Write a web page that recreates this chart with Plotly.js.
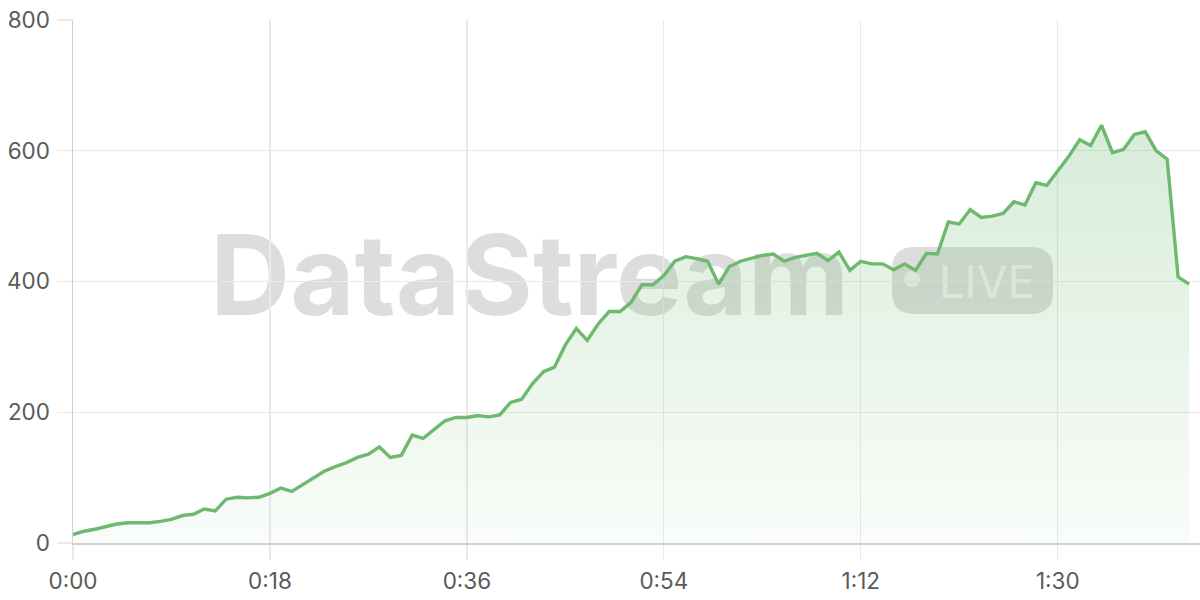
<!DOCTYPE html>
<html>
<head>
<meta charset="utf-8">
<script src="https://cdn.plot.ly/plotly-3.0.1.min.js"></script>
<style>
  html, body { margin: 0; padding: 0; background: #ffffff; }
  #chart { width: 1200px; height: 600px; }
</style>
</head>
<body>
<div id="chart"></div>
<script>
// ---- data ----
const seconds = [
  0,1,2,3,4,5,6,7,8,9,10,11,12,13,14,15,16,17,18,19,20,
  21,22,23,24,25,26,27,28,29,30,31,32,33,34,35,36,37,38,39,40,
  41,42,43,44,45,46,47,48,49,50,51,52,53,54,55,56,57,58,59,60,
  61,62,63,64,65,66,67,68,69,70,71,72,73,74,75,76,77,78,79,80,
  81,82,83,84,85,86,87,88,89,90,91,92,93,94,95,96,97,98,99,100,101,102
];
const values = [
  13,18,21,25,29,31,31,31,33,36,42,44,52,49,67,70,69,70,76,84,79,
  89,99,110,117,123,131,136,147,131,134,165,160,174,187,192,192,195,193,196,215,
  220,244,262,269,303,328,310,335,354,354,368,395,395,409,431,438,435,431,396,423,
  431,435,440,442,431,437,440,443,432,445,417,431,427,427,418,427,417,443,442,491,
  488,510,498,500,504,522,517,551,547,568,591,617,608,639,597,602,625,629,600,587,407,396
];
const xTickVals = [0, 18, 36, 54, 72, 90];
const xTickText = ['0:00', '0:18', '0:36', '0:54', '1:12', '1:30'];
const yTickVals = [0, 200, 400, 600, 800];
const watermarkText = 'DataStream';
const badgeText = 'LIVE';

// ---- layout geometry helpers (pixel -> paper) ----
const M = { l: 73, r: 0, t: 20, b: 57 };
const W = 1200, H = 600;
const PW = W - M.l - M.r, PH = H - M.t - M.b;
const fx = X => (X - M.l) / PW;
const fy = Y => (H - M.b - Y) / PH;

function roundRectPath(x0, y0, x1, y1, r) {
  const p = [
    ['M', x0 + r, y0], ['L', x1 - r, y0], ['Q', x1, y0, x1, y0 + r],
    ['L', x1, y1 - r], ['Q', x1, y1, x1 - r, y1], ['L', x0 + r, y1],
    ['Q', x0, y1, x0, y1 - r], ['L', x0, y0 + r], ['Q', x0, y0, x0 + r, y0]
  ];
  return p.map(seg => {
    const cmd = seg[0];
    const nums = [];
    for (let i = 1; i < seg.length; i += 2) nums.push(fx(seg[i]).toFixed(5) + ',' + fy(seg[i + 1]).toFixed(5));
    return cmd + nums.join(' ');
  }).join(' ') + ' Z';
}

const green = '#6cb96f';
const gridCol = '#e9e9e9';
const tickFont = { family: 'Inter, "Open Sans", sans-serif', size: 22.5, color: '#5a5a5a' };
const wmFamily = 'Inter, "Open Sans", sans-serif';

const trace = {
  x: seconds,
  y: values,
  type: 'scatter',
  mode: 'lines',
  line: { color: green, width: 3.4 },
  fill: 'tozeroy',
  fillgradient: {
    type: 'vertical',
    colorscale: [[0, 'rgba(108,185,111,0.04)'], [1, 'rgba(108,185,111,0.27)']]
  },
  hoverinfo: 'skip'
};

const layout = {
  width: W, height: H,
  margin: M,
  paper_bgcolor: '#ffffff',
  plot_bgcolor: '#ffffff',
  showlegend: false,
  xaxis: {
    range: [0, 103],
    tickvals: xTickVals,
    ticktext: xTickText,
    showgrid: true, gridcolor: gridCol, gridwidth: 1.3,
    ticks: 'outside', ticklen: 15, tickcolor: gridCol, tickwidth: 1.3,
    showline: true, linecolor: '#d0d0d0', linewidth: 2,
    zeroline: false,
    tickfont: tickFont,
    ticklabelstandoff: 2,
    fixedrange: true
  },
  yaxis: {
    range: [0, 800],
    tickvals: yTickVals,
    showgrid: true, gridcolor: gridCol, gridwidth: 1.3,
    ticks: 'outside', ticklen: 15, tickcolor: gridCol, tickwidth: 1.3,
    showline: true, linecolor: '#d0d0d0', linewidth: 1.5,
    zeroline: false,
    tickfont: tickFont,
    ticklabelstandoff: 2,
    fixedrange: true
  },
  shapes: [
    {
      type: 'rect', xref: 'paper', yref: 'paper', layer: 'between',
      x0: fx(207), x1: fx(880), y0: fy(316), y1: fy(226),
      fillcolor: 'rgba(0,0,0,0)', line: { width: 0 },
      label: {
        text: watermarkText, textposition: 'middle left', padding: 0,
        font: { family: wmFamily, size: 111, weight: 700, color: 'rgba(0,0,0,0.135)' }
      }
    },
    {
      type: 'path', xref: 'paper', yref: 'paper', layer: 'between',
      path: roundRectPath(892, 247, 1053, 314, 22),
      fillcolor: 'rgba(0,0,0,0.135)', line: { width: 0 }
    },
    {
      type: 'circle', xref: 'paper', yref: 'paper', layer: 'between',
      x0: fx(904), x1: fx(920), y0: fy(287), y1: fy(271),
      fillcolor: 'rgba(255,255,255,0.62)', line: { width: 0 }
    },
    {
      type: 'rect', xref: 'paper', yref: 'paper', layer: 'between',
      x0: fx(936), x1: fx(1050), y0: fy(300), y1: fy(260),
      fillcolor: 'rgba(0,0,0,0)', line: { width: 0 },
      label: {
        text: badgeText, textposition: 'middle left', padding: 0,
        font: { family: wmFamily, size: 45, weight: 400, color: 'rgba(255,255,255,0.62)' }
      }
    }
  ]
};

Plotly.newPlot('chart', [trace], layout, { staticPlot: true, displayModeBar: false });
</script>
</body>
</html>
